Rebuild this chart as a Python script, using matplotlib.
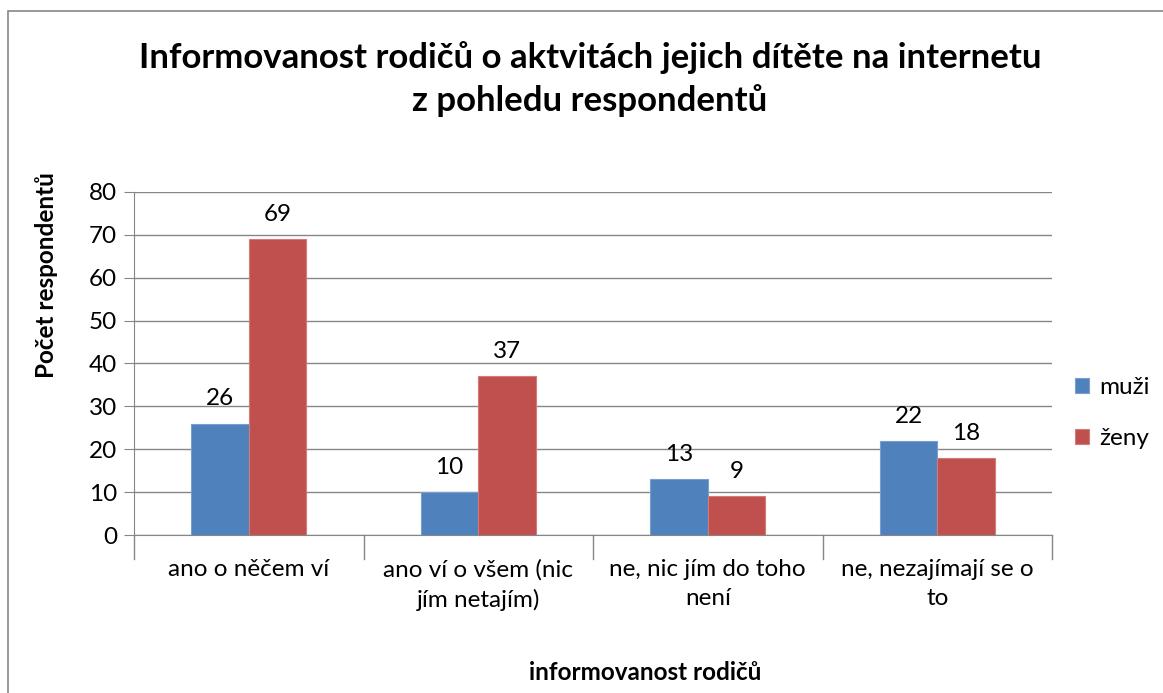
import matplotlib.pyplot as plt
import numpy as np
from matplotlib.patches import Rectangle

plt.rcParams['font.family'] = ['Lato', 'DejaVu Sans']

categories = ['ano o něčem ví', 'ano ví o všem (nic\njím netajím)',
              'ne, nic jím do toho\nnení', 'ne, nezajímají se o\nto']
muzi = [26, 10, 13, 22]
zeny = [69, 37, 9, 18]
series_names = ['muži', 'ženy']

W, H = 1163, 693
fig = plt.figure(figsize=(W / 100, H / 100), dpi=100)
ax = fig.add_axes([134 / W, 1 - 535 / H, (1052 - 134) / W, (535 - 192) / H])

x = np.arange(len(categories))
w = 0.25
b1 = ax.bar(x - w / 2, muzi, w, color='#4F81BD', edgecolor='#7A9FCF', linewidth=0.8,
            label=series_names[0], zorder=3)
b2 = ax.bar(x + w / 2, zeny, w, color='#C0504D', edgecolor='#D47A78', linewidth=0.8,
            label=series_names[1], zorder=3)
for bars in (b1, b2):
    for r in bars:
        ax.text(r.get_x() + r.get_width() / 2, r.get_height() + 3.3, str(int(r.get_height())),
                ha='center', va='bottom', fontsize=17.5)

ax.set_xlim(-0.5, len(categories) - 0.5)
ax.set_ylim(0, 80)
ax.set_yticks(range(0, 81, 10))
ax.tick_params(axis='y', labelsize=17.5, length=7, color='#868686', pad=5)
ax.grid(axis='y', color='#868686', linewidth=1, zorder=0)

ax.set_xticks(x)
ax.set_xticklabels(categories, fontsize=17.5, linespacing=1.5)
ax.tick_params(axis='x', length=0, pad=17)
for b in np.arange(-0.5, len(categories), 1.0):
    ax.plot([b, b], [0, -0.07], transform=ax.get_xaxis_transform(), color='#868686',
            linewidth=1, clip_on=False)

for side in ['top', 'right']:
    ax.spines[side].set_visible(False)
ax.spines['left'].set_color('#868686')
ax.spines['bottom'].set_color('#868686')

fig.text(590 / W, 1 - 58 / H, 'Informovanost rodičů o aktvitách jejich dítěte na internetu',
         ha='center', va='center', fontsize=25, fontweight='bold')
fig.text(590 / W, 1 - 101 / H, 'z pohledu respondentů',
         ha='center', va='center', fontsize=25, fontweight='bold')
fig.text(47 / W, 1 - 275 / H, 'Počet respondentů', rotation=90, ha='center', va='center',
         fontsize=17.5, fontweight='bold')
fig.text(645 / W, 1 - 673 / H, 'informovanost rodičů', ha='center', va='center',
         fontsize=17.5, fontweight='bold')

ax.legend(loc='center left', bbox_to_anchor=(1053 / W, 1 - 413 / H),
          bbox_transform=fig.transFigure, frameon=False, fontsize=17.5,
          handlelength=0.6, handleheight=0.6, handletextpad=0.4, labelspacing=1.25)

fig.patches.append(Rectangle((8 / W, -0.1), 1.2, 1 - 11 / H + 0.1, transform=fig.transFigure,
                             fill=False, edgecolor='#868686', linewidth=1.2))

fig.savefig('out.png', dpi=100)
